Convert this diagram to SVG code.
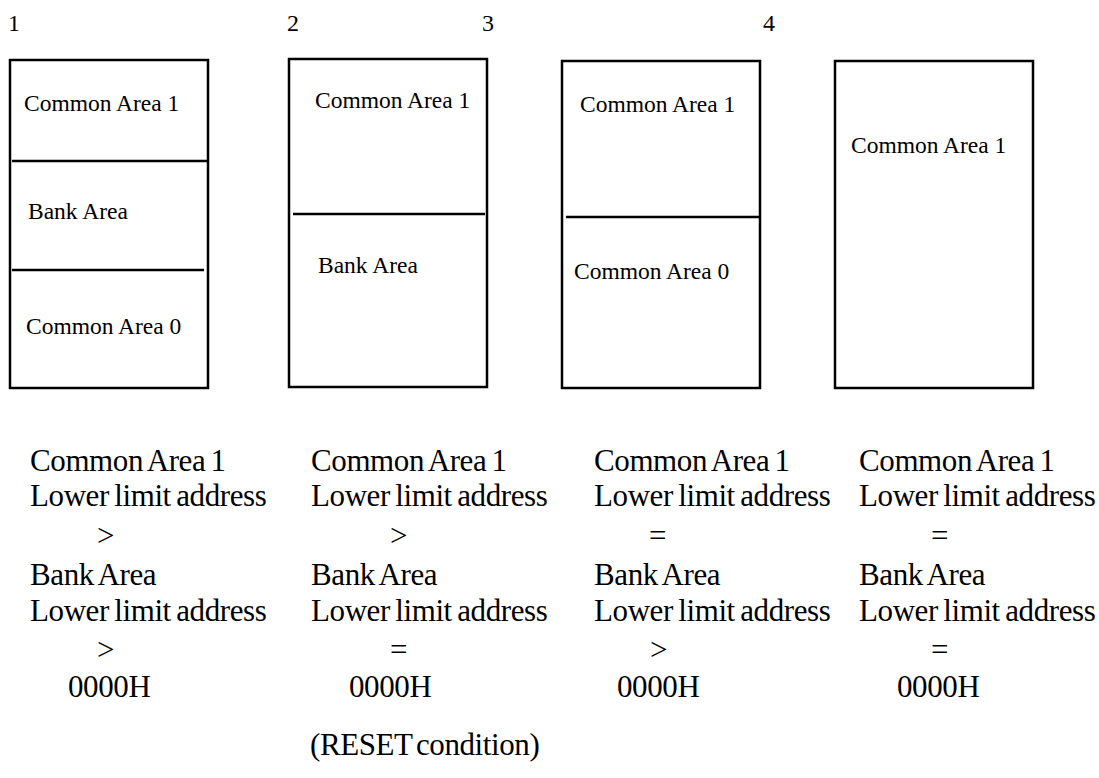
<svg xmlns="http://www.w3.org/2000/svg" width="1099" height="778" viewBox="0 0 1099 778">
<style>
.n{font-size:24px}
.b{font-size:23.5px}
.t{font-size:31px;letter-spacing:-0.4px;word-spacing:-2px}
.r{word-spacing:-3.5px}
.box{fill:#fff;stroke:#000;stroke-width:2.5}
.div{stroke:#000;stroke-width:2.5}
</style>
<rect width="1099" height="778" fill="#fff"/>
<g font-family="Liberation Serif, Times New Roman, serif" fill="#000">
<g id="labels">
<text class="n" x="8" y="31">1</text>
<text class="n" x="287" y="31">2</text>
<text class="n" x="482" y="31">3</text>
<text class="n" x="763" y="31">4</text>
</g>
<g id="node1">
<rect class="box" x="10" y="60" width="198" height="328"/>
<line class="div" x1="12" y1="161" x2="208" y2="161"/>
<line class="div" x1="12" y1="270" x2="204" y2="270"/>
<text class="b" x="24" y="111">Common Area 1</text>
<text class="b" x="28" y="219">Bank Area</text>
<text class="b" x="26" y="334">Common Area 0</text>
</g>
<g id="node2">
<rect class="box" x="289" y="59" width="198" height="328"/>
<line class="div" x1="293" y1="214" x2="485" y2="214"/>
<text class="b" x="315" y="108">Common Area 1</text>
<text class="b" x="318" y="273">Bank Area</text>
</g>
<g id="node3">
<rect class="box" x="562" y="61" width="198" height="327"/>
<line class="div" x1="566" y1="217" x2="760" y2="217"/>
<text class="b" x="580" y="112">Common Area 1</text>
<text class="b" x="574" y="279">Common Area 0</text>
</g>
<g id="node4">
<rect class="box" x="835" y="61" width="198" height="327"/>
<text class="b" x="851" y="153">Common Area 1</text>
</g>
<g id="connectors"></g>
<g id="col1">
<text class="t" x="30" y="471">Common Area 1</text>
<text class="t" x="30" y="506">Lower limit address</text>
<text class="t" x="97" y="546">&gt;</text>
<text class="t" x="30" y="585">Bank Area</text>
<text class="t" x="30" y="621">Lower limit address</text>
<text class="t" x="97" y="660">&gt;</text>
<text class="t" x="68" y="697">0000H</text>
</g>
<g id="col2">
<text class="t" x="311" y="471">Common Area 1</text>
<text class="t" x="311" y="506">Lower limit address</text>
<text class="t" x="390" y="546">&gt;</text>
<text class="t" x="311" y="585">Bank Area</text>
<text class="t" x="311" y="621">Lower limit address</text>
<text class="t" x="390" y="660">=</text>
<text class="t" x="349" y="697">0000H</text>
<text class="t r" x="310" y="755">(RESET condition)</text>
</g>
<g id="col3">
<text class="t" x="594" y="471">Common Area 1</text>
<text class="t" x="594" y="506">Lower limit address</text>
<text class="t" x="649" y="546">=</text>
<text class="t" x="594" y="585">Bank Area</text>
<text class="t" x="594" y="621">Lower limit address</text>
<text class="t" x="650" y="660">&gt;</text>
<text class="t" x="617" y="697">0000H</text>
</g>
<g id="col4">
<text class="t" x="859" y="471">Common Area 1</text>
<text class="t" x="859" y="506">Lower limit address</text>
<text class="t" x="931" y="546">=</text>
<text class="t" x="859" y="585">Bank Area</text>
<text class="t" x="859" y="621">Lower limit address</text>
<text class="t" x="931" y="660">=</text>
<text class="t" x="897" y="697">0000H</text>
</g>
</g>
</svg>
